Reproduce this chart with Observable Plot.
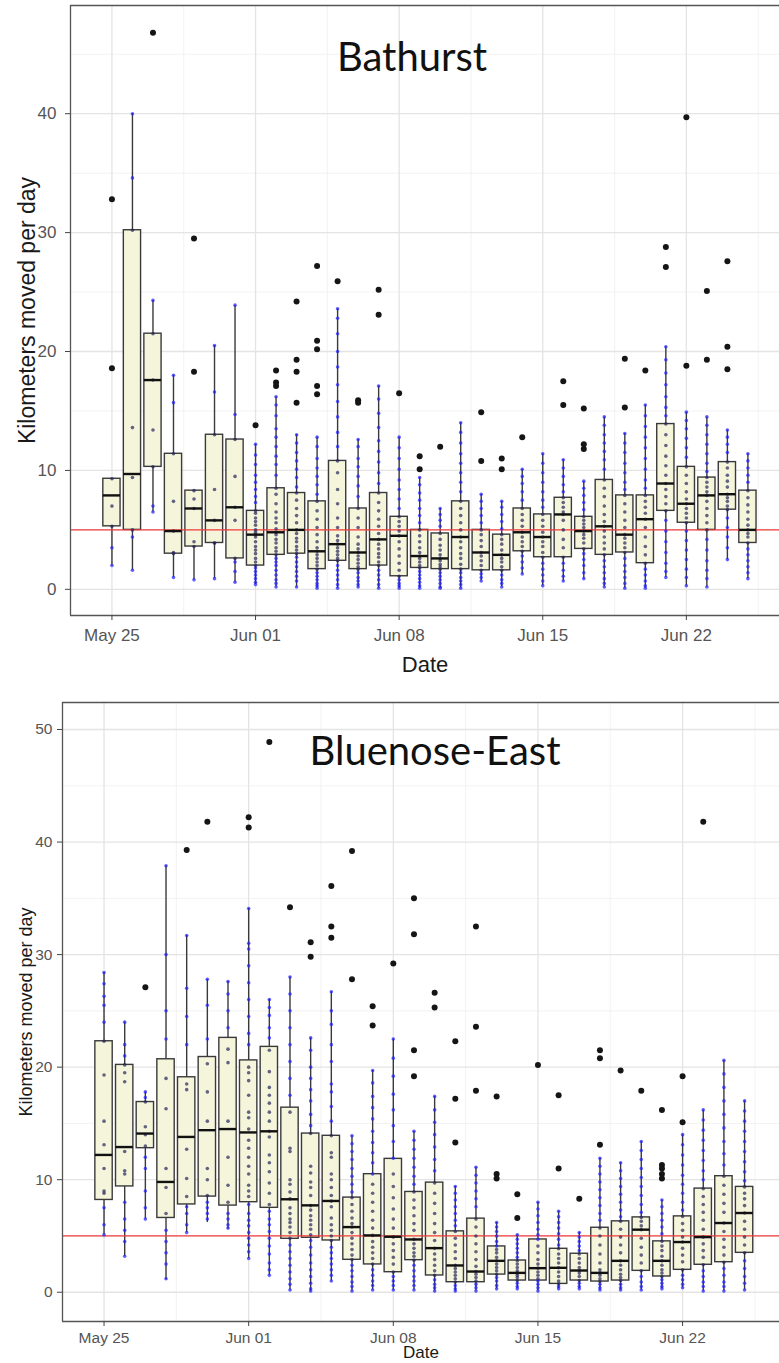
<!DOCTYPE html>
<html><head><meta charset="utf-8">
<script src="https://cdn.jsdelivr.net/npm/d3@7"></script>
<script src="https://cdn.jsdelivr.net/npm/@observablehq/plot@0.6"></script>
<style>
body{margin:0;background:#fff;}
#chart{width:779px;overflow:hidden;}
#chart svg{display:block;}
</style></head><body><div id="chart"></div>
<script>
// ---------- categories & ticks ----------
const firstDay = "2019-05-25";
const nDays = 32;
const majorDates = ["2019-05-25","2019-06-01","2019-06-08","2019-06-15","2019-06-22"];
const minorDates = ["2019-05-28T12:00Z","2019-06-04T12:00Z","2019-06-11T12:00Z","2019-06-18T12:00Z","2019-06-25T12:00Z"];
const bathYTicks = [0,10,20,30,40];
const bathYMinor = [5,15,25,35,45];
const blueYTicks = [0,10,20,30,40,50];
const blueYMinor = [5,15,25,35,45];
const threshold = 5;

// ---------- Bathurst ----------
const bathLo  = [2.0,1.6,6.5,1.0,0.8,0.9,0.6,0.4,0.2,0.2,0.1,0.1,0.2,0.1,0.1,0.1,0.1,0.1,0.7,0.2,1.3,0.3,0.7,0.9,0.2,0.1,0.1,1.0,0.3,0.2,2.5,0.9];
const bathQ1  = [5.3,5.0,10.3,3.0,3.6,3.9,2.6,2.0,2.9,3.0,1.7,2.4,1.7,2.0,1.1,1.8,1.7,1.7,1.6,1.6,3.2,2.7,2.7,3.4,2.9,3.1,2.2,6.6,5.6,5.0,6.7,3.9];
const bathMed = [7.9,9.7,17.6,4.9,6.8,5.8,6.9,4.6,4.8,5.0,3.2,3.8,3.1,4.2,4.5,2.8,2.6,4.4,3.1,2.9,4.8,4.4,6.3,4.9,5.3,4.6,5.9,8.9,7.2,7.9,8.0,5.0];
const bathQ3  = [9.3,30.2,21.5,11.4,8.3,13.0,12.6,6.6,8.5,8.1,7.4,10.8,6.8,8.1,6.1,5.0,4.7,7.4,5.0,4.6,6.8,6.3,7.7,6.1,9.2,7.9,7.9,13.9,10.3,9.4,10.7,8.3];
const bathHi  = [9.3,40.0,24.3,18.0,8.3,20.5,23.9,12.2,16.2,13.0,12.8,23.6,12.6,17.1,12.8,9.4,6.8,14.0,8.0,7.4,10.1,11.4,10.9,9.1,14.5,13.1,15.5,20.4,14.9,14.5,13.4,11.4];
const bathOutliers = [[32.8,18.6],[],[46.8],[],[29.5,18.3],[],[],[13.8],[18.4,17.4,17.1],[24.2,19.3,18.3,15.7],[27.2,20.9,20.2,17.1,16.4],[25.9],[15.9,15.7],[25.2,23.1],[16.5],[11.2,10.1],[12.0],[],[14.9,10.8],[11.0,10.1],[12.8],[],[17.5,15.5],[15.2,12.2,11.8],[],[19.4,15.3],[18.4],[28.8,27.1],[39.7,18.8],[25.1,19.3],[27.6,20.4,18.5],[]];
const bathPoints = [
 [9.3,7.0,5.3,3.5,2.0],
 [40.0,34.6,30.2,13.6,9.4,5.0,4.4,1.6],
 [24.3,21.5,17.6,13.4,10.3,7.0,6.5],
 [18.0,15.7,11.4,7.4,4.9,3.1,3.0,1.0],
 [8.3,7.6,6.8,4.0,3.6,0.8],
 [20.5,16.6,13.0,8.4,5.8,3.9,3.9,0.9],
 [23.9,14.7,12.6,9.5,6.9,5.8,2.6,2.3,1.5,0.6],
 [12.2,11.3,10.5,9.6,9.0,8.4,7.8,7.3,6.6,6.4,6.0,5.7,5.4,5.0,4.8,4.6,4.4,4.0,3.6,3.3,3.0,2.6,2.3,2.0,1.8,1.5,1.2,0.9,0.6,0.4],
 [16.2,15.5,14.6,13.5,12.8,12.0,11.2,10.5,9.6,8.5,8.0,7.2,6.5,6.0,5.6,5.1,4.8,4.6,4.2,3.9,3.5,3.2,2.9,2.6,2.3,2.0,1.6,1.2,0.8,0.5,0.2],
 [13.0,12.3,11.5,10.8,10.1,9.4,8.6,8.1,7.5,6.8,6.2,5.6,5.0,4.7,4.3,4.0,3.6,3.3,3.0,2.7,2.3,1.9,1.5,1.1,0.7,0.2],
 [12.8,12.0,11.0,10.2,9.5,8.8,8.0,7.4,6.6,5.9,5.2,4.6,4.0,3.5,3.2,2.9,2.6,2.3,2.0,1.7,1.4,1.1,0.8,0.5,0.3,0.1],
 [23.6,22.8,21.5,20.0,18.7,17.2,15.8,14.5,13.2,12.0,10.8,9.8,8.4,7.2,6.0,5.2,4.5,4.1,3.8,3.5,3.2,2.9,2.6,2.4,2.0,1.6,1.2,0.8,0.4,0.1],
 [12.6,12.0,11.0,10.3,9.5,8.7,7.8,6.8,6.0,5.2,4.4,3.8,3.4,3.1,2.8,2.5,2.2,1.9,1.7,1.4,1.0,0.7,0.4,0.2],
 [17.1,16.0,14.8,13.6,12.5,11.6,10.7,9.8,8.9,8.1,7.3,6.6,5.9,5.3,4.7,4.2,3.8,3.4,3.0,2.7,2.3,2.0,1.6,1.2,0.8,0.4,0.1],
 [12.8,11.9,11.0,10.1,9.2,8.4,7.6,6.8,6.1,5.7,5.3,4.9,4.5,4.0,3.4,2.8,2.2,1.6,1.1,0.8,0.5,0.3,0.1],
 [9.4,8.8,8.1,7.5,6.8,6.2,5.6,5.0,4.5,4.0,3.5,3.1,2.8,2.6,2.3,2.0,1.8,1.5,1.2,0.9,0.6,0.3,0.1],
 [6.8,6.3,5.8,5.3,4.7,4.2,3.7,3.3,2.9,2.6,2.4,2.1,1.9,1.7,1.4,1.1,0.8,0.5,0.2,0.1],
 [14.0,13.2,12.3,11.4,10.6,9.8,9.0,8.2,7.4,6.8,6.2,5.6,5.0,4.4,4.0,3.5,3.0,2.6,2.1,1.7,1.4,1.0,0.7,0.4,0.1],
 [8.0,7.4,6.8,6.2,5.6,5.0,4.6,4.1,3.6,3.1,2.8,2.4,2.0,1.6,1.3,1.0,0.7],
 [7.4,6.9,6.3,5.7,5.1,4.6,4.2,3.8,3.3,2.9,2.6,2.3,1.9,1.6,1.2,0.8,0.5,0.2],
 [10.1,9.5,8.9,8.2,7.5,6.8,6.3,5.8,5.3,4.8,4.4,4.0,3.6,3.2,2.8,2.3,1.8,1.3],
 [11.4,10.6,9.8,9.0,8.2,7.5,6.9,6.3,5.8,5.3,4.8,4.4,4.0,3.6,3.1,2.7,2.2,1.7,1.2,0.7,0.3],
 [10.9,10.2,9.5,8.8,8.2,7.7,7.3,6.9,6.5,6.3,5.8,5.0,4.2,3.5,2.7,2.2,1.6,1.1,0.7],
 [9.1,8.5,7.9,7.3,6.7,6.1,5.8,5.5,5.2,4.9,4.6,4.3,3.9,3.4,3.0,2.5,2.0,1.4,0.9],
 [14.5,13.8,13.0,12.3,11.6,10.9,10.1,9.2,8.5,7.8,7.0,6.3,5.7,5.3,4.9,4.4,3.9,3.4,2.9,2.4,1.9,1.4,0.9,0.5,0.2],
 [13.1,12.3,11.5,10.6,9.8,9.0,8.4,7.9,7.2,6.5,5.8,5.2,4.6,4.3,3.9,3.5,3.1,2.6,2.0,1.5,1.0,0.5,0.1],
 [15.5,14.6,13.7,12.8,11.9,11.0,10.1,9.2,8.5,7.9,7.4,6.9,6.4,5.9,5.2,4.4,3.6,2.9,2.2,1.7,1.2,0.7,0.3,0.1],
 [20.4,19.3,18.2,17.2,16.2,15.3,14.6,13.9,13.0,12.1,11.2,10.4,9.6,8.9,8.4,7.8,7.2,6.6,5.8,4.9,4.0,3.1,2.2,1.5,1.0],
 [14.9,14.2,13.5,12.7,11.9,11.1,10.3,9.6,8.9,8.2,7.6,7.2,6.8,6.4,6.0,5.6,4.9,4.1,3.3,2.5,1.7,1.0,0.3],
 [14.5,13.8,13.0,12.2,11.4,10.6,9.9,9.4,9.0,8.6,8.2,7.9,7.4,6.8,6.2,5.6,5.0,4.2,3.3,2.4,1.6,0.9,0.2],
 [13.4,12.8,12.2,11.5,10.7,10.2,9.6,9.1,8.6,8.0,7.7,7.4,7.0,6.7,6.0,5.2,4.4,3.5,2.5],
 [11.4,10.8,10.2,9.6,9.0,8.3,7.7,7.1,6.5,5.9,5.4,5.0,4.7,4.4,3.9,3.4,2.9,2.4,1.9,1.4,0.9]
];

// ---------- Bluenose-East ----------
const blueLo  = [5.1,3.2,6.5,1.1,5.3,6.2,5.6,3.0,1.5,0.2,0.1,1.0,0.1,0.2,0.2,0.2,0.1,0.1,0.1,0.3,0.3,0.1,0.3,0.3,0.2,0.2,0.2,0.3,0.4,0.1,0.1,0.2];
const blueQ1  = [8.2,9.4,12.8,6.6,7.8,8.5,7.7,8.0,7.5,4.75,4.84,4.6,2.88,2.47,1.78,2.85,1.49,0.89,0.89,1.57,1.04,1.04,0.74,1.04,0.95,1.04,1.9,1.4,1.99,2.44,2.67,3.5];
const blueMed = [12.2,12.9,14.1,9.8,13.8,14.4,14.5,14.2,14.3,8.26,7.72,8.11,5.79,5.05,4.93,4.69,3.92,2.38,1.84,2.79,1.72,2.14,2.17,1.93,1.72,2.79,5.56,2.79,4.46,4.9,6.15,7.04];
const blueQ3  = [22.3,20.2,16.9,20.7,19.1,20.9,22.6,20.6,21.8,16.4,14.1,13.9,8.41,10.49,11.85,8.91,9.74,5.41,6.54,4.07,2.82,4.69,3.86,3.42,5.73,6.3,6.65,4.52,6.74,9.21,10.31,9.36];
const blueHi  = [28.4,24.0,17.8,37.9,31.7,27.8,27.6,34.1,26.0,28.0,22.6,26.7,13.9,19.7,22.5,14.3,17.4,9.4,11.1,6.2,5.1,8.0,7.2,5.3,11.9,11.5,13.4,8.2,14.0,16.2,20.6,17.0];
const blueOutliers = [[],[],[27.1],[],[39.3],[41.8],[],[42.2,41.3],[48.9],[34.2],[31.1,29.8],[36.1,32.5,31.5],[39.2,27.8],[25.4,23.7],[29.2],[35.0,31.8,21.5,19.2],[26.6,25.3],[22.3,17.2,13.3],[32.5,23.6,17.9],[17.4,10.5,10.1],[8.7,6.6],[20.2],[17.5,11.0],[8.3],[21.5,20.8,13.1],[19.7],[17.9],[16.2,11.3,11.0,10.5,10.1],[19.2,15.1],[41.8],[],[]];
const bluePoints = [
 [28.4,27.4,26.3,25.5,24.0,22.3,19.3,15.2,13.1,11.0,9.0,8.8,7.5,6.0,5.1],
 [24.0,22.0,21.0,20.2,19.5,18.7,12.5,10.8,10.5,8.0,6.5,5.5,4.5,3.2],
 [17.8,17.3,16.9,14.7,14.0,13.0,12.0,11.0,9.0,7.5,6.5],
 [37.9,30.0,25.0,22.5,19.0,16.3,11.0,9.3,7.0,5.5,4.5,3.5,2.5,1.2],
 [31.7,27.0,24.5,22.0,18.5,18.0,12.7,10.1,8.5,7.6,7.0,6.0,5.3],
 [27.8,25.5,22.5,20.3,17.8,15.2,11.0,10.0,8.6,8.0,7.5,7.0,6.5],
 [27.6,26.5,25.0,23.5,21.6,20.4,15.2,12.0,9.5,8.0,7.0,6.5,6.0,5.7],
 [34.1,31.0,30.5,29.0,27.5,26.0,24.5,23.0,22.0,20.0,19.5,18.8,17.5,16.0,15.5,14.5,13.5,12.8,12.0,11.2,10.5,9.5,9.0,8.5,7.8,7.0,6.4,5.9,5.3,4.8,4.2,3.6,3.0],
 [26.0,25.3,24.6,23.5,22.6,21.5,19.6,18.2,17.5,16.8,16.0,15.2,14.3,13.8,12.2,11.5,10.7,9.7,8.8,7.8,7.2,6.5,6.0,5.4,4.8,4.1,3.4,2.6,2.0,1.5],
 [28.0,26.5,25.0,23.5,22.0,20.5,19.0,17.5,16.0,12.8,12.5,10.0,9.6,8.9,8.3,7.5,7.0,6.5,6.2,5.8,5.3,4.8,4.2,3.6,3.0,2.4,1.8,1.2,0.7,0.2],
 [22.6,21.5,20.0,19.0,18.0,17.0,15.8,14.8,14.1,11.2,10.6,9.8,9.3,8.6,7.7,7.3,6.8,6.4,6.0,5.6,5.1,4.6,4.0,3.3,2.6,2.0,1.4,0.8,0.3,0.1],
 [26.7,25.0,23.8,22.0,20.5,18.5,17.8,16.5,15.2,13.9,12.4,12.0,10.5,10.0,9.3,8.6,8.1,7.6,6.6,6.0,5.5,5.0,4.6,4.0,3.5,3.0,2.5,2.0,1.5,1.0],
 [13.9,13.2,12.5,11.8,11.0,10.3,9.6,8.9,8.4,7.8,7.2,6.6,6.1,5.8,5.3,4.8,4.3,3.8,3.3,2.9,2.4,1.9,1.4,0.9,0.5,0.1],
 [19.7,18.6,17.4,16.4,15.4,14.3,13.3,12.4,11.5,10.5,9.6,8.8,8.0,7.2,6.4,5.7,5.05,4.5,4.0,3.5,3.0,2.5,2.0,1.5,1.0,0.6,0.2],
 [22.5,20.8,19.2,17.6,16.2,14.8,13.4,11.9,10.5,9.4,8.4,7.4,6.5,5.7,4.9,4.3,3.7,3.1,2.5,1.8,1.4,1.0,0.6,0.2],
 [14.3,13.5,12.7,11.9,11.1,10.3,9.6,8.9,8.2,7.5,6.8,6.1,5.5,4.7,4.3,3.9,3.5,3.2,2.85,2.4,1.9,1.4,1.0,0.6,0.2],
 [17.4,16.2,15.1,14.0,12.9,11.8,10.8,9.7,8.8,7.9,7.0,6.1,5.3,4.6,3.9,3.4,2.9,2.4,1.9,1.5,1.1,0.7,0.4,0.1],
 [9.4,8.8,8.2,7.6,7.0,6.4,5.9,5.4,4.8,4.2,3.6,3.0,2.4,2.1,1.8,1.5,1.2,0.9,0.6,0.3,0.1],
 [11.1,10.4,9.7,9.0,8.3,7.6,6.5,5.8,5.0,4.3,3.6,2.9,2.3,1.84,1.6,1.3,1.0,0.7,0.4,0.1],
 [6.2,5.8,5.4,5.0,4.5,4.1,3.8,3.5,3.1,2.8,2.5,2.2,1.9,1.6,1.3,1.0,0.6,0.3],
 [5.1,4.7,4.3,3.9,3.5,3.1,2.8,2.5,2.2,1.9,1.7,1.5,1.3,1.04,0.8,0.5,0.3],
 [8.0,7.4,6.8,6.2,5.6,5.1,4.7,4.1,3.5,2.9,2.5,2.14,1.8,1.5,1.2,1.0,0.7,0.4,0.1],
 [7.2,6.7,6.2,5.7,5.2,4.7,4.2,3.86,3.4,3.0,2.6,2.17,1.8,1.4,1.0,0.74,0.5,0.3],
 [5.3,4.9,4.5,4.1,3.7,3.4,3.0,2.6,2.2,1.93,1.7,1.4,1.04,0.8,0.5,0.3],
 [11.9,11.2,10.5,9.8,9.1,8.4,7.7,7.0,6.4,5.7,5.0,4.2,3.4,2.6,2.0,1.72,1.5,1.2,0.95,0.7,0.4,0.2],
 [11.5,10.8,10.1,9.4,8.7,8.0,7.3,6.7,6.3,5.6,4.9,4.2,3.5,2.79,2.4,2.0,1.6,1.3,1.04,0.7,0.4,0.2],
 [13.4,12.6,11.8,11.0,10.2,9.4,8.6,7.8,7.1,6.65,6.3,5.9,5.56,4.8,4.0,3.3,2.6,1.9,1.4,0.9,0.5,0.2],
 [8.2,7.6,7.0,6.4,5.8,5.2,4.52,4.1,3.7,3.2,2.79,2.4,2.0,1.7,1.4,1.1,0.8,0.5,0.3],
 [14.0,13.1,12.2,11.3,10.4,9.6,8.8,8.0,7.3,6.74,6.1,5.5,4.9,4.46,3.9,3.3,2.7,1.99,1.5,1.1,0.7,0.4],
 [16.2,15.3,14.4,13.5,12.6,11.7,10.8,10.0,9.2,8.5,7.8,7.1,6.4,5.6,4.9,4.3,3.7,3.1,2.44,1.9,1.4,0.9,0.5,0.1],
 [20.6,19.4,18.2,17.0,15.8,14.6,13.4,12.3,11.3,10.3,9.5,8.7,7.9,7.1,6.15,5.4,4.7,4.0,3.3,2.67,2.1,1.5,0.9,0.5,0.1],
 [17.0,16.1,15.2,14.3,13.4,12.5,11.6,10.7,9.9,9.36,8.8,8.3,7.7,7.04,6.3,5.6,4.9,4.2,3.5,2.8,2.1,1.4,0.8,0.2]
];

// ---------- helpers ----------
const DAY = 864e5;
const d0 = new Date(firstDay + "T00:00Z");
const dates = d3.range(nDays).map(i => d3.utcDay.offset(d0, i));
const shift = (d, days) => new Date(+d + days * DAY);
const fmt = d3.utcFormat("%b %d");

function buildPanel(cfg) {
  const stats = dates.map((date, i) => ({date, lo: cfg.lo[i], q1: cfg.q1[i], med: cfg.med[i], q3: cfg.q3[i], hi: cfg.hi[i]}));
  const pts = stats.flatMap((s, i) => cfg.points[i].map(v => ({date: s.date, v, inside: v >= s.q1 && v <= s.q3})));
  const outs = stats.flatMap((s, i) => cfg.outliers[i].map(v => ({date: s.date, v})));
  const xDomain = [shift(d0, -cfg.padLeft), shift(d0, cfg.padRight)];
  const hw = 0.42;
  const major = majorDates.map(s => new Date(s + "T00:00Z"));
  const minor = minorDates.map(s => new Date(s));
  return Plot.plot({
    width: 779, height: cfg.height,
    marginTop: cfg.marginTop, marginBottom: cfg.marginBottom, marginLeft: cfg.marginLeft, marginRight: 0,
    style: {fontFamily: "'Liberation Sans', Arial, sans-serif", background: "#fff", color: "#222"},
    x: {type: "utc", domain: xDomain},
    y: {domain: cfg.yDomain},
    marks: [
      Plot.ruleX(minor, {stroke: "#f1f1f1", strokeWidth: 0.9}),
      Plot.ruleY(cfg.yMinor, {stroke: "#f1f1f1", strokeWidth: 0.9}),
      Plot.ruleX(major, {stroke: "#e4e4e4", strokeWidth: 1.3}),
      Plot.ruleY(cfg.yTicks, {stroke: "#e4e4e4", strokeWidth: 1.3}),
      Plot.ruleX(stats, {x: "date", y1: "lo", y2: "hi", stroke: "#3a3a3a", strokeWidth: 1.4}),
      Plot.rect(stats, {x1: d => shift(d.date, -hw), x2: d => shift(d.date, hw), y1: "q1", y2: "q3", fill: "#f5f5dc", stroke: "#3a3a3a", strokeWidth: 1.4}),
      Plot.ruleY([threshold], {stroke: "#f03a3a", strokeWidth: 1.3}),
      Plot.dot(pts, {x: "date", y: "v", r: 1.8, fill: d => d.inside ? "#23235a" : "#1e1eff", fillOpacity: 0.7, stroke: null}),
      Plot.ruleY(stats, {y: "med", x1: d => shift(d.date, -hw), x2: d => shift(d.date, hw), stroke: "#111", strokeWidth: 2.4}),
      Plot.dot(outs, {x: "date", y: "v", r: 3, fill: "#151515", stroke: null}),
      Plot.ruleY([cfg.yDomain[0], cfg.yDomain[1]], {stroke: "#555", strokeWidth: 1.3}),
      Plot.ruleX([xDomain[0]], {stroke: "#555", strokeWidth: 1.3}),
      Plot.axisX(major, {tickSize: 5, tickPadding: cfg.xPad, tickFormat: fmt, fontSize: cfg.tickFont, fill: "#555", stroke: "#444", label: null}),
      Plot.axisY(cfg.yTicks, {tickSize: 5, tickPadding: cfg.yPad, fontSize: cfg.tickFont, fill: "#555", stroke: "#444", label: null}),
      Plot.text([cfg.ylabel], {text: d => d, frameAnchor: "left", textAnchor: "middle", lineAnchor: "middle", rotate: -90, dx: cfg.ylabelDx, fontSize: cfg.ylabelFont, fill: "#1a1a1a"}),
      Plot.text(["Date"], {text: d => d, frameAnchor: "bottom", lineAnchor: "middle", dy: cfg.dateDy, fontSize: cfg.dateFont, fill: "#1a1a1a"}),
      Plot.text([cfg.title], {text: d => d, frameAnchor: "top", lineAnchor: "middle", dx: cfg.titleDx, dy: cfg.titleDy, fontSize: 40, fontFamily: "Lato, 'Open Sans', sans-serif", fill: "#111"})
    ]
  });
}

const chart = document.getElementById("chart");
chart.append(buildPanel({
  title: "Bathurst", lo: bathLo, q1: bathQ1, med: bathMed, q3: bathQ3, hi: bathHi, points: bathPoints, outliers: bathOutliers,
  yDomain: [-2.2, 49.1], yTicks: bathYTicks, yMinor: bathYMinor,
  height: 680, marginTop: 5, marginBottom: 65, marginLeft: 70, padLeft: 2.02, padRight: 32.54,
  tickFont: 17, xPad: 8, yPad: 9, ylabel: "Kilometers moved per day", ylabelDx: -43, ylabelFont: 23,
  dateDy: 49, dateFont: 22, titleDx: -13, titleDy: 53
}));
chart.append(buildPanel({
  title: "Bluenose-East", lo: blueLo, q1: blueQ1, med: blueMed, q3: blueQ3, hi: blueHi, points: bluePoints, outliers: blueOutliers,
  yDomain: [-2.6, 52.4], yTicks: blueYTicks, yMinor: blueYMinor,
  height: 683, marginTop: 22, marginBottom: 42, marginLeft: 62, padLeft: 2.01, padRight: 32.69,
  tickFont: 15.5, xPad: 5, yPad: 5, ylabel: "Kilometers moved per day", ylabelDx: -36, ylabelFont: 18,
  dateDy: 31, dateFont: 17, titleDx: 14, titleDy: 50
}));
</script></body></html>
